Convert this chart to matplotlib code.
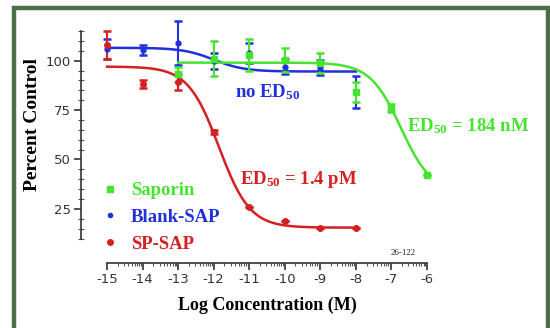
import numpy as np
import matplotlib

matplotlib.use("Agg")
import matplotlib.pyplot as plt
from matplotlib.lines import Line2D
from matplotlib.patches import Rectangle
from matplotlib.ticker import FixedLocator, MultipleLocator

plt.rcParams["axes.unicode_minus"] = False
plt.rcParams["mathtext.fontset"] = "custom"
plt.rcParams["mathtext.rm"] = "Liberation Serif:bold"
plt.rcParams["mathtext.default"] = "rm"

# --- data ------------------------------------------------------------------
sap_x = [-13, -12, -11, -10, -9, -8, -7, -6]
sap_y = [93, 101, 103, 100.5, 99, 84, 76, 42]
sap_err = [4, 9, 8, 6, 5, 5, 2, 0]

blank_x = [-15, -14, -13, -12, -11, -10, -9, -8]
blank_y = [106, 105.5, 109, 100, 104, 97, 96.5, 84]
blank_err = [5, 2.5, 11, 4, 5, 4, 4, 8]

sp_x = [-15, -14, -13, -12, -11, -10, -9, -8]
sp_y = [108, 88, 89, 64, 26, 19, 15.5, 15.5]
sp_err = [7, 2, 4, 1, 0, 0, 0, 0]

# 4-parameter logistic fits: top, bottom, logEC50, x range
sap_fit = (99, 33, -6.735, -13, -6)
blank_fit = (106.5, 94.5, -12.0, -15, -8)
sp_fit = (97, 15.5, -11.85, -15, -8)

x_ticks = [-15, -14, -13, -12, -11, -10, -9, -8, -7, -6]
y_ticks = [25, 50, 75, 100]

GREEN = "#45e42e"
BLUE = "#2030dd"
RED = "#d42020"
SERIF = ["Liberation Serif", "DejaVu Serif"]


def logistic(params):
    top, bottom, log_ec50, x0, x1 = params
    xs = np.linspace(x0, x1, 200)
    return xs, bottom + (top - bottom) / (1 + 10 ** (xs - log_ec50))


fig = plt.figure(figsize=(5.5, 3.28), dpi=100)
ax = fig.add_axes([107 / 550, 1 - 238.5 / 328, 320 / 550, 207.5 / 328])

series = [
    (blank_x, blank_y, blank_err, blank_fit, BLUE, "o", 3.5),
    (sap_x, sap_y, sap_err, sap_fit, GREEN, "s", 4),
    (sp_x, sp_y, sp_err, sp_fit, RED, "o", 4),
]
for xs, ys, errs, fit, color, marker, ms in series:
    fx, fy = logistic(fit)
    ax.plot(fx, fy, color=color, lw=1.8, clip_on=False)
    ax.errorbar(xs, ys, yerr=errs, fmt=marker, color=color, ms=ms,
                elinewidth=1.5, capsize=3, capthick=1.8, clip_on=False)

ax.set_xlim(-15, -6)
ax.set_ylim(10, 115)
for side in ("top", "right"):
    ax.spines[side].set_visible(False)
ax.spines["left"].set_position(("outward", 18.7))
ax.spines["bottom"].set_position(("outward", 17.6))
for side in ("left", "bottom"):
    ax.spines[side].set_color("#333333")
    ax.spines[side].set_linewidth(1.2)

ax.set_xticks(x_ticks)
minor_x = [d + np.log10(m) for d in x_ticks[:-1] for m in range(2, 10)]
ax.xaxis.set_minor_locator(FixedLocator(minor_x))
ax.set_yticks(y_ticks)
ax.yaxis.set_minor_locator(MultipleLocator(5))
ax.tick_params(which="major", length=5, width=1.2, color="#333333",
               labelsize=9.5, labelcolor="#333333", pad=2)
ax.tick_params(which="minor", length=2.5, width=0.8, color="#555555")
ax.tick_params(axis="y", which="minor", direction="inout", length=4)

ax.set_ylabel("Percent Control", family=SERIF, fontweight="bold", fontsize=14)
ax.yaxis.set_label_coords(-0.205, 0.547)
ax.set_xlabel("Log Concentration (M)", family=SERIF, fontweight="bold",
              fontsize=13)
ax.xaxis.set_label_coords(0.5, -0.28)

ax.text(-11.4, 84.3, "no ED$_{50}$", color=BLUE, family=SERIF,
        fontweight="bold", fontsize=13.5, va="center")
ax.text(-6.56, 67, "ED$_{50}$ = 184 nM", color=GREEN, family=SERIF,
        fontweight="bold", fontsize=13.5, va="center", clip_on=False)
ax.text(-11.26, 40, "ED$_{50}$ = 1.4 pM", color=RED, family=SERIF,
        fontweight="bold", fontsize=13.5, va="center")
ax.text(-6.68, 2.7, "26-122", color="#222222", family=SERIF, fontsize=6.5,
        ha="center", va="center", clip_on=False)

handles = [
    Line2D([], [], ls="none", marker="s", ms=4, color=GREEN),
    Line2D([], [], ls="none", marker="o", ms=3, color=BLUE),
    Line2D([], [], ls="none", marker="o", ms=4, color=RED),
]
labels = ["Saporin", "Blank-SAP", "SP-SAP"]
leg = fig.legend(handles, labels, loc="upper left",
                 bbox_to_anchor=(98.8 / 550, 1 - 182 / 328),
                 bbox_transform=fig.transFigure, frameon=False,
                 borderpad=0, borderaxespad=0, handlelength=1.2,
                 handletextpad=0.5, labelspacing=0.52,
                 prop={"family": SERIF, "weight": "bold", "size": 13.5})
for text, color in zip(leg.get_texts(), [GREEN, BLUE, RED]):
    text.set_color(color)

fig.patches.append(Rectangle((14 / 550, -0.1), 534 / 550, 1.1 - 8 / 328,
                             transform=fig.transFigure, fill=False,
                             edgecolor="#4a6e46", linewidth=3.2))

fig.savefig("out.png", dpi=100)
